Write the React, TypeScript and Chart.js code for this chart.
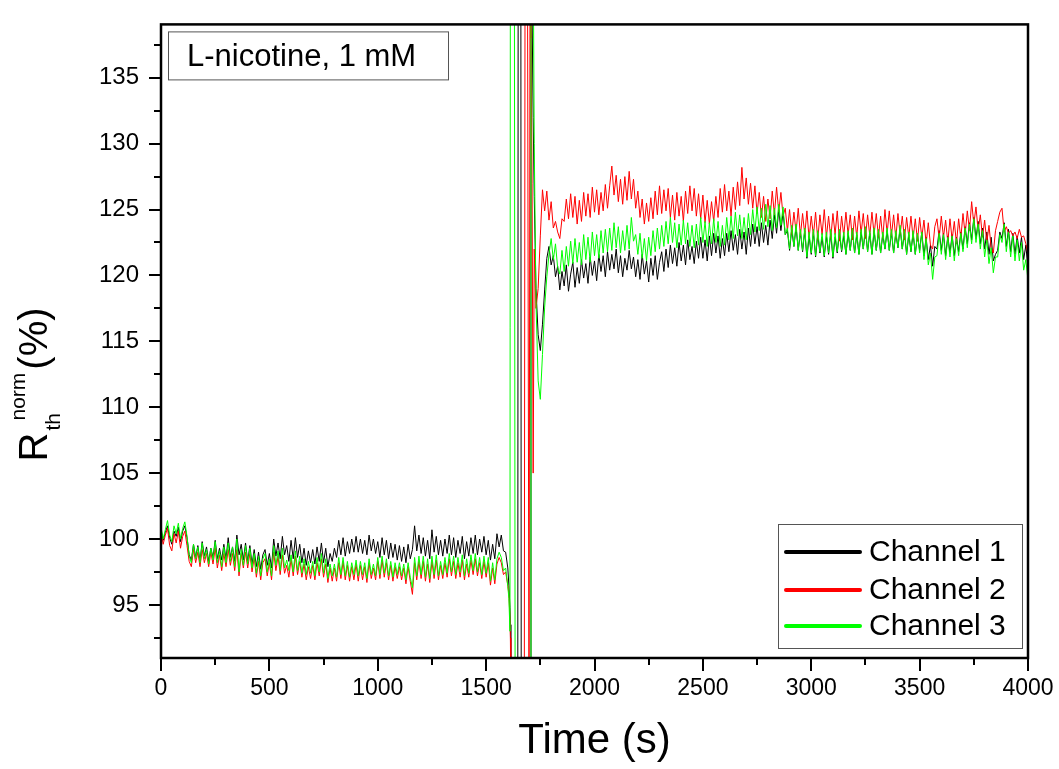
import React, { useEffect, useRef } from 'react';
import { Chart, registerables } from 'chart.js';

Chart.register(...registerables);

const FONT = "'Liberation Sans', Arial, Helvetica, sans-serif";

// ---- time axis (s) ----
const timesBaseline = [
  0, 10, 20, 30, 40, 50, 60, 70, 80, 90,
  100, 110, 120, 130, 140, 150, 160, 170, 180, 190,
  200, 210, 220, 230, 240, 250, 260, 270, 280, 290,
  300, 310, 320, 330, 340, 350, 360, 370, 380, 390,
  400, 410, 420, 430, 440, 450, 460, 470, 480, 490,
  500, 510, 520, 530, 540, 550, 560, 570, 580, 590,
  600, 610, 620, 630, 640, 650, 660, 670, 680, 690,
  700, 710, 720, 730, 740, 750, 760, 770, 780, 790,
  800, 810, 820, 830, 840, 850, 860, 870, 880, 890,
  900, 910, 920, 930, 940, 950, 960, 970, 980, 990,
  1000, 1010, 1020, 1030, 1040, 1050, 1060, 1070, 1080, 1090,
  1100, 1110, 1120, 1130, 1140, 1150, 1160, 1170, 1180, 1190,
  1200, 1210, 1220, 1230, 1240, 1250, 1260, 1270, 1280, 1290,
  1300, 1310, 1320, 1330, 1340, 1350, 1360, 1370, 1380, 1390,
  1400, 1410, 1420, 1430, 1440, 1450, 1460, 1470, 1480, 1490,
  1500, 1510, 1520, 1530, 1540, 1550, 1560, 1570, 1580, 1590,
  1600,
];
const timesInjection = [
  1605, 1610, 1612, 1614, 1620, 1630, 1634, 1640, 1646, 1648,
  1652, 1660, 1662, 1670, 1676, 1680, 1690, 1698, 1703, 1707,
  1712, 1717, 1722, 1730, 1740, 1750,
];
const timesResponse = [
  1760, 1770, 1780, 1790, 1800, 1810, 1820, 1830, 1840, 1850,
  1860, 1870, 1880, 1890, 1900, 1910, 1920, 1930, 1940, 1950,
  1960, 1970, 1980, 1990, 2000, 2010, 2020, 2030, 2040, 2050,
  2060, 2070, 2080, 2090, 2100, 2110, 2120, 2130, 2140, 2150,
  2160, 2170, 2180, 2190, 2200, 2210, 2220, 2230, 2240, 2250,
  2260, 2270, 2280, 2290, 2300, 2310, 2320, 2330, 2340, 2350,
  2360, 2370, 2380, 2390, 2400, 2410, 2420, 2430, 2440, 2450,
  2460, 2470, 2480, 2490, 2500, 2510, 2520, 2530, 2540, 2550,
  2560, 2570, 2580, 2590, 2600, 2610, 2620, 2630, 2640, 2650,
  2660, 2670, 2680, 2690, 2700, 2710, 2720, 2730, 2740, 2750,
  2760, 2770, 2780, 2790, 2800, 2810, 2820, 2830, 2840, 2850,
  2860, 2870, 2880, 2890, 2900, 2910, 2920, 2930, 2940, 2950,
  2960, 2970, 2980, 2990, 3000, 3010, 3020, 3030, 3040, 3050,
  3060, 3070, 3080, 3090, 3100, 3110, 3120, 3130, 3140, 3150,
  3160, 3170, 3180, 3190, 3200, 3210, 3220, 3230, 3240, 3250,
  3260, 3270, 3280, 3290, 3300, 3310, 3320, 3330, 3340, 3350,
  3360, 3370, 3380, 3390, 3400, 3410, 3420, 3430, 3440, 3450,
  3460, 3470, 3480, 3490, 3500, 3510, 3520, 3530, 3540, 3550,
  3560, 3570, 3580, 3590, 3600, 3610, 3620, 3630, 3640, 3650,
  3660, 3670, 3680, 3690, 3700, 3710, 3720, 3730, 3740, 3750,
  3760, 3770, 3780, 3790, 3800, 3810, 3820, 3830, 3840, 3850,
  3860, 3870, 3880, 3890, 3900, 3910, 3920, 3930, 3940, 3950,
  3960, 3970, 3980, 3990, 4000,
];

// ---- Channel 1 (black) ----
const ch1Baseline = [
  100.7, 99.9, 100.5, 101.0, 100.1, 99.6, 100.6, 100.2, 100.9, 99.8,
  100.6, 101.0, 100.1, 98.8, 98.4, 99.6, 98.6, 99.5, 98.3, 99.8,
  98.7, 99.4, 98.3, 99.3, 98.6, 99.9, 98.5, 99.3, 98.4, 99.6,
  98.5, 100.1, 98.6, 99.4, 98.3, 100.3, 98.8, 99.6, 98.4, 99.7,
  98.3, 99.5, 98.1, 99.2, 97.9, 99.0, 97.7, 98.8, 99.2, 98.0,
  98.9, 97.8, 100.0, 98.7, 99.7, 98.5, 100.2, 98.8, 99.5, 98.3,
  99.9, 98.5, 100.1, 98.6, 99.6, 98.2, 99.3, 98.0, 99.1, 98.2,
  99.2, 98.1, 99.4, 98.3, 99.7, 98.2, 99.3, 97.9, 98.9, 98.3,
  99.3, 98.6, 99.9, 98.8, 100.1, 98.7, 99.8, 98.9, 100.0, 99.0,
  100.2, 99.0, 100.0, 98.9, 99.9, 98.8, 100.3, 99.1, 100.0, 98.9,
  99.8, 98.6, 100.1, 98.8, 99.9, 98.5, 99.7, 98.6, 99.6, 98.4,
  99.5, 98.3, 99.4, 98.2, 99.6, 98.5, 99.2, 101.0, 99.1, 100.3,
  98.9, 100.1, 98.7, 99.9, 98.5, 100.7, 99.0, 100.2, 98.8, 99.9,
  98.7, 100.0, 98.9, 100.3, 98.8, 100.1, 98.6, 99.9, 98.9, 100.2,
  98.5, 99.8, 98.7, 100.1, 98.9, 100.3, 98.8, 100.0, 99.0, 100.2,
  98.8, 99.9, 98.4, 99.6, 98.5, 100.4, 99.4, 100.3, 99.1, 99.0,
  97.8,
];
const ch1Injection = [
  96.5, 94.8, 93.5, 88, 85, 85, 85, 85, 85, 150,
  150, 150, 85, 85, 85, 85, 85, 85, 85, 150,
  140, 132, 126, 119, 115.5, 114.3,
];
const ch1Response = [
  116.3, 118.9, 121.3, 122.2, 120.8, 121.5, 119.9, 120.7, 118.9, 120.3,
  119.2, 120.8, 118.8, 120.1, 121.0, 119.1, 120.6, 119.4, 121.2, 119.8,
  120.9, 119.4, 121.4, 120.0, 121.1, 119.6, 121.6, 120.3, 121.5, 119.9,
  121.8, 120.4, 121.6, 120.5, 122.0, 120.2, 121.5, 119.9, 121.3, 120.4,
  121.9, 120.5, 121.4, 119.9, 121.2, 119.7, 121.6, 120.1, 121.1, 119.5,
  121.3, 120.0, 121.5, 119.7, 121.0, 121.8, 120.3, 122.0, 120.6, 122.3,
  120.9, 122.1, 120.7, 122.5, 121.1, 122.3, 120.8, 122.7, 121.2, 122.2,
  120.9, 122.6, 121.3, 122.9, 121.3, 122.7, 121.1, 123.0, 121.5, 123.2,
  121.7, 123.0, 121.3, 122.8, 121.5, 123.2, 121.8, 123.4, 121.9, 123.1,
  121.6, 123.5, 122.0, 123.3, 121.6, 123.6, 122.2, 123.9, 122.4, 123.7,
  122.2, 124.0, 122.5, 123.8, 122.3, 124.2, 122.8, 124.6, 123.2, 125.0,
  123.4, 124.8, 123.1, 123.4, 121.9, 123.5, 122.2, 123.7, 121.9, 123.3,
  121.8, 123.4, 121.3, 123.0, 121.6, 123.3, 121.4, 123.1, 121.7, 122.9,
  121.4, 123.0, 121.6, 123.2, 121.3, 122.9, 121.7, 123.3, 121.8, 123.0,
  121.6, 123.2, 121.9, 123.4, 121.7, 123.1, 121.6, 123.3, 122.0, 123.5,
  121.8, 123.2, 121.6, 123.4, 121.9, 123.3, 121.7, 123.1, 122.0, 123.4,
  121.9, 123.3, 121.7, 123.2, 122.1, 123.6, 122.0, 123.3, 121.6, 123.1,
  121.8, 123.2, 121.6, 123.1, 121.9, 123.3, 121.5, 122.9, 121.2, 122.3,
  120.7, 122.2, 122.0, 123.4, 121.9, 123.2, 121.5, 123.0, 121.7, 123.1,
  121.5, 122.9, 121.8, 123.3, 122.0, 123.7, 122.4, 124.0, 122.7, 124.4,
  122.8, 124.1, 122.4, 123.6, 122.0, 123.3, 121.6, 122.9, 121.1, 121.6,
  121.9, 123.3, 122.8, 124.0, 122.2, 123.5, 121.8, 123.2, 121.6, 123.0,
  121.7, 122.9, 121.2, 122.3, 120.5,
];

// ---- Channel 2 (red) ----
const ch2Baseline = [
  100.5, 99.6, 100.3, 100.8, 99.5, 99.1, 100.4, 99.7, 100.6, 99.3,
  100.2, 100.6, 99.5, 98.3, 97.9, 99.2, 98.2, 99.0, 97.9, 99.2,
  98.2, 98.9, 97.9, 99.0, 98.1, 99.3, 97.8, 98.8, 97.6, 98.9,
  97.9, 99.2, 98.0, 98.9, 97.6, 99.2, 97.2, 98.9, 97.8, 99.0,
  97.8, 98.9, 97.5, 98.6, 97.1, 98.3, 96.9, 98.2, 98.5, 97.2,
  98.2, 96.9, 99.0, 97.6, 98.7, 97.3, 98.8, 97.4, 98.0, 97.1,
  98.5, 97.2, 98.7, 97.3, 98.3, 97.1, 98.1, 96.9, 97.9, 97.0,
  98.0, 96.9, 98.2, 97.2, 98.5, 97.1, 98.1, 96.7, 97.8, 96.8,
  97.8, 96.8, 98.2, 97.0, 98.3, 96.9, 98.0, 96.8, 97.9, 96.9,
  98.1, 96.8, 98.0, 96.9, 97.9, 96.7, 98.2, 97.0, 97.8, 96.9,
  98.3, 97.0, 98.4, 97.1, 98.2, 96.9, 98.0, 96.8, 97.9, 97.0,
  97.9, 96.9, 97.8, 96.6, 97.9, 96.8, 95.8, 98.2, 96.9, 98.3,
  97.0, 98.3, 96.8, 98.1, 96.7, 98.3, 97.0, 98.4, 96.9, 98.0,
  97.0, 98.2, 97.1, 98.5, 97.2, 98.3, 97.0, 98.2, 97.1, 98.4,
  96.9, 98.1, 97.1, 98.4, 97.3, 98.5, 97.2, 98.2, 97.0, 98.3,
  97.1, 98.2, 96.5, 97.8, 96.6, 98.1, 98.6, 98.2, 97.3, 97.5,
  96.5,
];
const ch2Injection = [
  95.8, 94.0, 92.5, 88, 85, 85, 85, 85, 85, 85,
  85, 85, 85, 85, 85, 150, 150, 85, 150, 138,
  127, 105, 122, 117.5, 119.0, 123.0,
];
const ch2Response = [
  126.5, 124.9, 126.4, 124.2, 125.6, 123.6, 124.1, 123.3, 122.8, 124.3,
  124.1, 125.8, 124.3, 126.2, 124.4, 126.0, 123.9, 125.7, 124.1, 126.3,
  124.5, 126.2, 124.4, 126.7, 124.8, 126.5, 124.6, 126.3, 124.9, 126.9,
  125.1, 126.8, 128.3, 126.1, 127.6, 125.6, 127.3, 125.4, 127.5, 125.7,
  127.9, 125.8, 127.3, 125.1, 126.4, 124.4, 125.8, 123.9, 125.5, 124.1,
  125.9, 124.3, 126.4, 124.6, 126.8, 124.7, 126.5, 124.9, 126.6, 124.4,
  126.1, 124.2, 126.3, 124.5, 126.0, 124.1, 126.4, 124.7, 126.8, 124.9,
  126.6, 124.5, 126.2, 124.3, 126.1, 124.0, 125.7, 123.9, 125.6, 124.1,
  126.0, 124.4, 126.6, 124.8, 126.9, 124.9, 126.4, 124.5, 126.7, 125.0,
  127.1, 125.3, 128.2, 125.8, 127.4, 125.4, 127.0, 125.1, 126.8, 124.7,
  126.3, 124.4, 126.0, 124.1, 125.8, 124.3, 126.4, 124.6, 126.7, 124.8,
  126.3, 124.5, 125.1, 123.4, 125.0, 123.1, 124.8, 123.3, 125.1, 123.0,
  124.7, 123.1, 124.9, 122.8, 124.5, 123.0, 124.8, 122.7, 124.6, 123.1,
  125.0, 122.9, 124.5, 122.8, 124.7, 123.1, 124.9, 122.6, 124.5, 123.0,
  124.8, 123.1, 124.6, 122.7, 124.5, 122.9, 124.9, 123.2, 124.7, 122.8,
  124.6, 123.0, 124.8, 123.1, 124.7, 122.9, 124.5, 122.8, 125.0, 123.2,
  124.9, 123.0, 124.6, 122.8, 124.7, 123.1, 124.5, 122.7, 124.4, 122.9,
  124.5, 122.8, 124.3, 122.6, 124.4, 122.9, 124.2, 122.4, 124.0, 122.3,
  122.0, 123.7, 124.3, 122.8, 124.5, 122.9, 124.2, 122.5, 124.3, 122.7,
  124.1, 122.4, 124.3, 122.8, 124.7, 123.1, 124.9, 123.4, 125.6, 123.9,
  125.2, 123.4, 124.6, 122.9, 124.2, 122.5, 123.8, 122.1, 121.7, 123.4,
  124.1, 124.8, 125.1, 123.3, 123.7, 123.2, 123.4, 123.0, 123.3, 122.8,
  123.5, 122.9, 123.0, 122.4, 121.6,
];

// ---- Channel 3 (green) ----
const ch3Baseline = [
  100.9, 100.0, 100.7, 101.4, 100.3, 99.8, 101.0, 100.4, 101.2, 100.0,
  100.8, 101.3, 100.2, 98.7, 98.2, 99.6, 98.5, 99.4, 98.2, 99.7,
  98.5, 99.2, 98.1, 99.3, 98.4, 99.8, 98.2, 99.1, 97.9, 99.4,
  98.2, 99.7, 98.3, 99.4, 97.9, 100.0, 97.5, 99.2, 98.0, 99.5,
  98.1, 99.3, 97.8, 98.9, 97.4, 98.7, 97.2, 98.5, 98.9, 97.5,
  98.5, 97.2, 99.5, 98.0, 99.1, 97.6, 99.3, 97.8, 98.4, 97.6,
  98.8, 97.5, 99.1, 97.6, 98.7, 97.4, 98.5, 97.3, 98.3, 97.4,
  98.3, 97.2, 98.6, 97.5, 98.9, 97.4, 98.5, 97.0, 98.1, 97.2,
  98.1, 97.1, 98.6, 97.3, 98.6, 97.2, 98.3, 97.1, 98.2, 97.3,
  98.4, 97.2, 98.3, 97.3, 98.2, 97.0, 98.5, 97.3, 98.1, 97.2,
  98.6, 97.3, 98.7, 97.4, 98.5, 97.2, 98.3, 97.1, 98.2, 97.3,
  98.2, 97.2, 98.1, 96.9, 98.2, 97.1, 96.3, 98.6, 97.2, 98.7,
  97.3, 98.7, 97.1, 98.5, 97.0, 98.7, 97.3, 98.8, 97.2, 98.3,
  97.3, 98.6, 97.4, 98.9, 97.5, 98.7, 97.3, 98.6, 97.5, 98.8,
  97.2, 98.5, 97.4, 98.8, 97.6, 98.9, 97.5, 98.6, 97.3, 98.7,
  97.4, 98.6, 96.8, 98.2, 96.9, 98.5, 99.0, 98.6, 97.6, 97.8,
  96.4,
];
const ch3Injection = [
  95.5, 93.0, 150, 150, 150, 150, 85, 85, 85, 85,
  85, 85, 85, 85, 85, 85, 85, 85, 85, 150,
  150, 145, 130, 118, 112, 110.6,
];
const ch3Response = [
  114.0, 117.6, 119.9, 121.6, 122.8, 121.2, 122.4, 120.6, 120.1, 121.9,
  120.3, 122.2, 120.7, 122.6, 120.9, 122.8, 121.0, 122.5, 120.8, 123.1,
  121.2, 122.9, 121.0, 123.3, 121.5, 123.1, 121.3, 123.4, 121.7, 123.5,
  121.8, 123.6, 121.9, 124.0, 122.1, 123.7, 121.7, 123.4, 121.9, 123.8,
  122.0, 124.4, 122.6, 123.1, 121.6, 123.2, 121.3, 122.8, 121.1, 122.9,
  121.5, 123.4, 121.8, 123.6, 122.0, 123.8, 122.2, 124.1, 122.4, 124.4,
  122.5, 124.0, 122.1, 123.9, 122.3, 124.2, 122.4, 124.0, 122.2, 123.8,
  122.1, 123.9, 122.3, 124.4, 122.5, 124.1, 122.2, 124.0, 122.4, 124.3,
  122.5, 124.1, 122.2, 123.8, 122.3, 124.4, 122.7, 124.5, 122.8, 124.8,
  123.0, 124.6, 122.8, 124.4, 122.7, 124.7, 123.1, 125.0, 123.3, 125.2,
  123.4, 125.1, 123.5, 125.4, 123.7, 125.3, 123.4, 125.1, 123.6, 125.4,
  123.8, 125.2, 123.1, 123.6, 122.0, 123.8, 122.2, 123.9, 121.9, 123.5,
  121.9, 123.6, 121.4, 123.3, 121.7, 123.5, 121.5, 123.4, 121.8, 123.2,
  121.5, 123.3, 121.7, 123.5, 121.4, 123.2, 121.8, 123.5, 121.9, 123.3,
  121.6, 123.4, 121.9, 123.6, 121.7, 123.3, 121.6, 123.5, 122.0, 123.7,
  121.8, 123.4, 121.6, 123.6, 121.9, 123.5, 121.7, 123.3, 122.0, 123.6,
  121.9, 123.5, 121.7, 123.4, 122.1, 123.8, 122.0, 123.5, 121.6, 123.3,
  121.8, 123.4, 121.6, 123.2, 121.7, 123.3, 121.2, 122.8, 120.8, 121.7,
  119.7, 121.4, 121.5, 123.2, 121.6, 123.1, 121.2, 122.9, 121.4, 123.0,
  121.1, 122.8, 121.5, 123.2, 121.8, 123.6, 122.1, 123.9, 122.4, 124.3,
  122.5, 123.9, 122.0, 123.4, 121.4, 122.7, 120.9, 122.1, 120.2, 121.4,
  121.4, 123.1, 122.5, 123.9, 121.8, 123.3, 121.4, 123.0, 121.1, 122.7,
  121.1, 122.5, 120.4, 121.2, 119.6,
];

// ---- axes ----
const xTicks = [0, 500, 1000, 1500, 2000, 2500, 3000, 3500, 4000];
const xMinorTicks = [250, 750, 1250, 1750, 2250, 2750, 3250, 3750];
const yTicks = [95, 100, 105, 110, 115, 120, 125, 130, 135];
const yMinorTicks = [92.5, 97.5, 102.5, 107.5, 112.5, 117.5, 122.5, 127.5, 132.5, 137.5];
const xRange = [0, 4000];
const yRange = [90.97, 139.05];

const seriesNames = ['Channel 1', 'Channel 2', 'Channel 3'];
const seriesColors = ['#000000', '#ff0000', '#00ff00'];
const annotationText = 'L-nicotine, 1 mM';

const times = [...timesBaseline, ...timesInjection, ...timesResponse];
const channel1 = [...ch1Baseline, ...ch1Injection, ...ch1Response];
const channel2 = [...ch2Baseline, ...ch2Injection, ...ch2Response];
const channel3 = [...ch3Baseline, ...ch3Injection, ...ch3Response];

const toXY = (vals: number[]) => times.map((t, i) => ({ x: t, y: vals[i] }));

const decorPlugin = {
  id: 'decor',
  afterDraw(chart: any) {
    const { ctx, chartArea: a, scales } = chart;
    const xs = scales.x;
    const ys = scales.y;
    ctx.save();
    ctx.strokeStyle = '#000';
    ctx.lineWidth = 2;
    ctx.beginPath();
    for (const v of xMinorTicks) {
      const px = Math.round(xs.getPixelForValue(v));
      ctx.moveTo(px, a.bottom);
      ctx.lineTo(px, a.bottom + 7);
    }
    for (const v of yMinorTicks) {
      const py = Math.round(ys.getPixelForValue(v));
      ctx.moveTo(a.left - 7, py);
      ctx.lineTo(a.left, py);
    }
    ctx.stroke();

    // frame
    ctx.lineWidth = 2.5;
    ctx.strokeRect(a.left, a.top, a.right - a.left, a.bottom - a.top);

    // annotation box
    const bx = a.left + 7, by = a.top + 7, bw = 280, bh = 48;
    ctx.fillStyle = '#fff';
    ctx.fillRect(bx, by, bw, bh);
    ctx.lineWidth = 1;
    ctx.strokeStyle = '#555';
    ctx.strokeRect(bx + 0.5, by + 0.5, bw, bh);
    ctx.fillStyle = '#000';
    ctx.font = `31px ${FONT}`;
    ctx.textAlign = 'left';
    ctx.textBaseline = 'alphabetic';
    ctx.fillText(annotationText, bx + 19, by + 35);

    // legend
    const lw = 244, lh = 124;
    const lx = a.right - 6 - lw, ly = a.bottom - 10 - lh;
    ctx.fillStyle = '#fff';
    ctx.fillRect(lx, ly, lw, lh);
    ctx.strokeStyle = '#555';
    ctx.lineWidth = 1;
    ctx.strokeRect(lx + 0.5, ly + 0.5, lw, lh);
    const rows = [28, 66, 102];
    ctx.font = `30px ${FONT}`;
    ctx.textBaseline = 'middle';
    seriesNames.forEach((name, i) => {
      const yy = ly + rows[i];
      ctx.strokeStyle = seriesColors[i];
      ctx.lineWidth = 4;
      ctx.lineCap = 'round';
      ctx.beginPath();
      ctx.moveTo(lx + 8, yy);
      ctx.lineTo(lx + 82, yy);
      ctx.stroke();
      ctx.fillStyle = '#000';
      ctx.fillText(name, lx + 91, yy + 1);
    });

    // y-axis title: R_th^norm(%)
    ctx.save();
    ctx.translate(a.left - 114, a.top + 437);
    ctx.rotate(-Math.PI / 2);
    ctx.fillStyle = '#000';
    ctx.textAlign = 'left';
    ctx.textBaseline = 'alphabetic';
    ctx.font = `40px ${FONT}`;
    ctx.fillText('R', 0, 0);
    const wR = ctx.measureText('R').width;
    ctx.font = `21px ${FONT}`;
    ctx.fillText('th', wR + 2, 13);
    ctx.fillText('norm', wR + 12, -22);
    const wN = ctx.measureText('norm').width;
    ctx.font = `40px ${FONT}`;
    ctx.fillText('(%)', wR + 12 + wN + 3, 0);
    ctx.restore();

    ctx.restore();
  },
};

export default function App() {
  const ref = useRef<HTMLCanvasElement | null>(null);

  useEffect(() => {
    if (!ref.current) return;
    const mk = (vals: number[], i: number, order: number) => ({
      label: seriesNames[i],
      data: toXY(vals),
      borderColor: seriesColors[i],
      backgroundColor: seriesColors[i],
      borderWidth: 1,
      pointRadius: 0,
      tension: 0,
      fill: false,
      order,
      clip: 0,
    });
    const chart = new Chart(ref.current, {
      type: 'line',
      data: {
        datasets: [mk(channel1, 0, 3), mk(channel2, 1, 2), mk(channel3, 2, 1)],
      },
      options: {
        animation: false,
        responsive: false,
        events: [],
        layout: { padding: { top: 15, right: 31, left: 0, bottom: 0 } },
        plugins: {
          legend: { display: false },
          tooltip: { enabled: false },
          title: { display: false },
        },
        scales: {
          x: {
            type: 'linear',
            min: xRange[0],
            max: xRange[1],
            afterBuildTicks: (s: any) => {
              s.ticks = xTicks.map((v) => ({ value: v }));
            },
            afterFit: (s: any) => {
              s.height = 111;
            },
            border: { display: false },
            grid: { drawOnChartArea: false, color: '#000', lineWidth: 2, tickLength: 13 },
            ticks: {
              color: '#000',
              font: { family: FONT, size: 23 },
              padding: 4,
              maxRotation: 0,
              autoSkip: false,
              callback: (v: any) => String(v),
            },
            title: {
              display: true,
              text: 'Time (s)',
              color: '#000',
              font: { family: FONT, size: 42 },
              padding: { top: 0, bottom: 2 },
            },
          },
          y: {
            type: 'linear',
            min: yRange[0],
            max: yRange[1],
            afterBuildTicks: (s: any) => {
              s.ticks = yTicks.map((v) => ({ value: v }));
            },
            afterFit: (s: any) => {
              s.width = 161;
            },
            border: { display: false },
            grid: { drawOnChartArea: false, color: '#000', lineWidth: 2, tickLength: 12 },
            ticks: {
              color: '#000',
              font: { family: FONT, size: 24 },
              padding: 10,
              autoSkip: false,
              callback: (v: any) => String(v),
            },
          },
        },
      },
      plugins: [decorPlugin],
    } as any);
    return () => chart.destroy();
  }, []);

  return (
    <div style={{ position: 'absolute', left: 0, top: 0, width: 1059, height: 769, background: '#fff' }}>
      <canvas ref={ref} width={1059} height={769} style={{ display: 'block' }} />
    </div>
  );
}
